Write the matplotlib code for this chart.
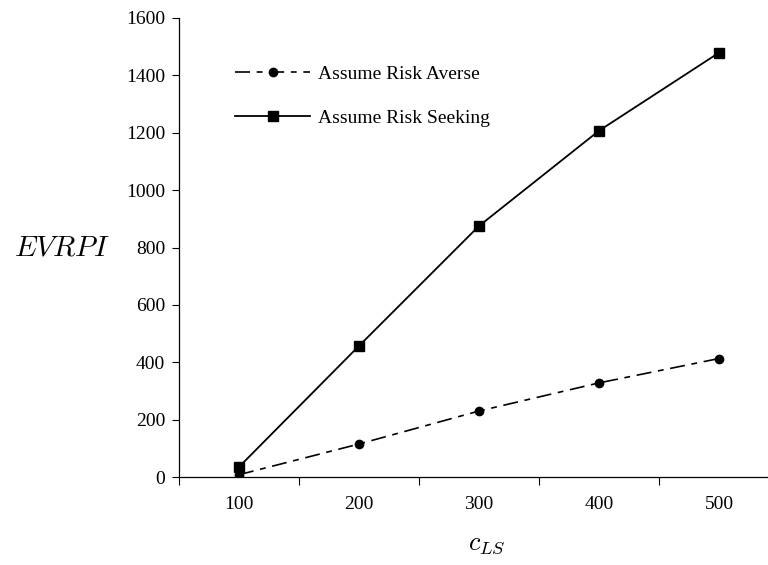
import matplotlib
matplotlib.use("Agg")
import matplotlib.pyplot as plt
from matplotlib.ticker import FixedLocator, NullFormatter

plt.rcParams['font.family'] = ['Liberation Serif', 'DejaVu Serif']
plt.rcParams['mathtext.fontset'] = 'cm'

c_ls = [100, 200, 300, 400, 500]
risk_averse = [8, 115, 230, 328, 413]
risk_seeking = [35, 457, 875, 1207, 1479]
y_ticks = [0, 200, 400, 600, 800, 1000, 1200, 1400, 1600]

fig = plt.figure(figsize=(7.68, 5.65), dpi=100)
ax = fig.add_axes([179/768, (565-477)/565, (767-179)/768, (477-18)/565])

ax.plot(c_ls, risk_averse, color='black', lw=1.2,
        linestyle=(0, (9, 4, 3.5, 4)), marker='o', markersize=6,
        label='Assume Risk Averse')
ax.plot(c_ls, risk_seeking, color='black', lw=1.3, linestyle='-',
        marker='s', markersize=7.5, label='Assume Risk Seeking')

ax.set_xlim(50, 540)
ax.set_ylim(0, 1600)

# category ticks between categories, labels at categories
ax.xaxis.set_major_locator(FixedLocator([c - 50 for c in c_ls]))
ax.xaxis.set_major_formatter(NullFormatter())
ax.xaxis.set_minor_locator(FixedLocator(c_ls))
ax.set_xticklabels([str(c) for c in c_ls], minor=True)
ax.tick_params(axis='x', which='minor', length=0, labelsize=14, pad=14)
ax.tick_params(axis='x', which='major', length=6, width=0.8, direction='out')

ax.set_yticks(y_ticks)
ax.set_yticklabels([str(v) for v in y_ticks])
ax.tick_params(axis='y', length=5, width=0.8, direction='out', labelsize=14, pad=5)

for s in ['top', 'right']:
    ax.spines[s].set_visible(False)
for s in ['left', 'bottom']:
    ax.spines[s].set_linewidth(0.9)

fig.text(487/768, 1 - 545/565, r'$c_{LS}$', fontsize=19, ha='center', va='center')
fig.text(62/768, 1 - 248/565, r'$EVRPI$', fontsize=21, ha='center', va='center')

ax.legend(loc='center left', bbox_to_anchor=(235/768, (565-96)/565),
          bbox_transform=fig.transFigure, frameon=False, fontsize=14,
          handlelength=3.86, handletextpad=0.42, labelspacing=1.35,
          borderpad=0, borderaxespad=0)

fig.savefig('out.png', dpi=100)
